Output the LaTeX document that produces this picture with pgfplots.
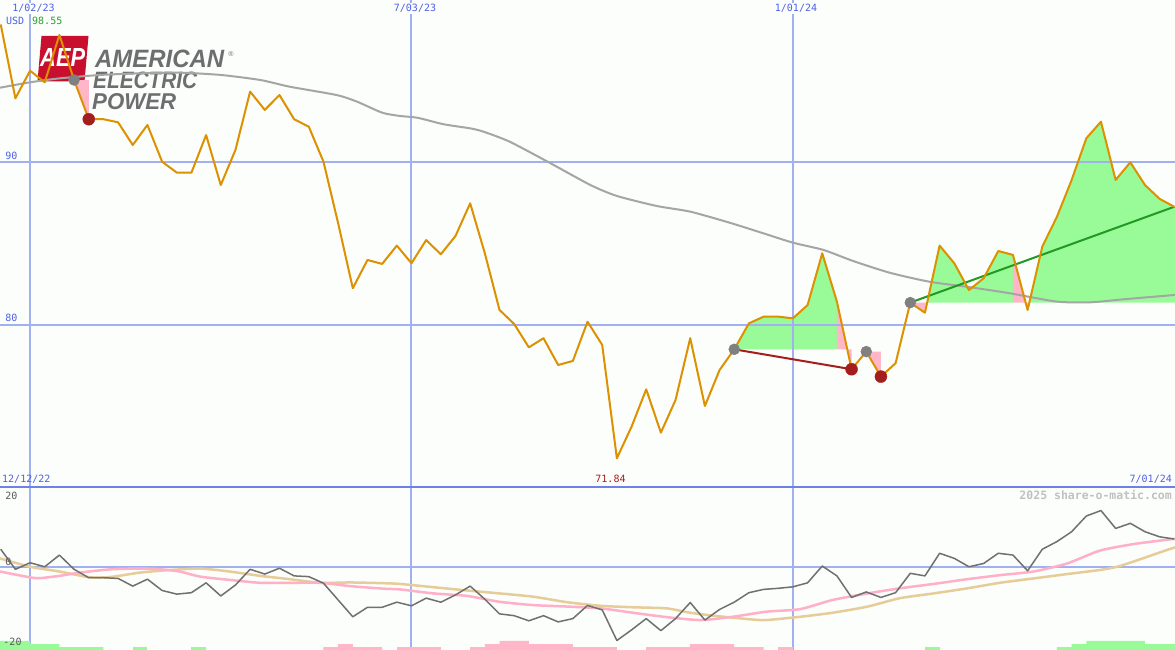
\documentclass[border=0pt]{standalone}
\usepackage{pgfplots}
\pgfplotsset{compat=1.18}
\usepackage{pgfplotstable}
\usepackage{graphicx}
\usepackage{fontspec}
\newfontfamily\monofont{DejaVu Sans Mono}
\newfontfamily\logofont{Liberation Sans}

\definecolor{bgc}{RGB}{251,254,250}
\definecolor{gridblue}{RGB}{160,176,240}
\definecolor{sepblue}{RGB}{112,128,232}
\definecolor{labblue}{RGB}{80,96,232}
\definecolor{priceor}{RGB}{221,144,0}
\definecolor{magray}{RGB}{165,165,165}
\definecolor{fillgreen}{RGB}{152,251,152}
\definecolor{fillpink}{RGB}{255,182,200}
\definecolor{exitred}{RGB}{165,30,30}
\definecolor{trendgreen}{RGB}{34,153,34}
\definecolor{markgray}{RGB}{128,128,128}
\definecolor{oscgray}{RGB}{112,112,112}
\definecolor{oscpink}{RGB}{255,176,200}
\definecolor{osctan}{RGB}{230,204,153}
\definecolor{aepred}{RGB}{200,16,46}
\definecolor{aepgray}{RGB}{110,110,112}
\definecolor{labgreen}{RGB}{40,160,40}
\definecolor{labred}{RGB}{170,30,30}
\definecolor{labgray}{RGB}{90,90,90}
\definecolor{wmgray}{RGB}{192,192,192}

% weekly values: week index (0 = 1/02/23), price (USD), oscillator
\pgfplotstableread{
w p o
-2 98.40 5.0
-1 93.88 -0.5
0 95.57 1.3
1 94.86 0.2
2 97.76 3.4
3 95.00 -0.5
4 92.60 -2.8
5 92.60 -2.8
6 92.41 -3.0
7 91.02 -5.1
8 92.25 -3.2
9 90.00 -6.3
10 89.33 -7.3
11 89.33 -6.9
12 91.63 -4.2
13 88.57 -7.8
14 90.72 -4.8
15 94.29 -0.5
16 93.17 -1.8
17 94.08 -0.2
18 92.60 -2.3
19 92.14 -2.5
20 90.00 -4.3
21 86.23 -8.9
22 82.25 -13.5
23 83.98 -10.9
24 83.74 -10.9
25 84.86 -9.5
26 83.78 -10.5
27 85.20 -8.4
28 84.33 -9.5
29 85.45 -7.5
30 87.45 -5.1
31 84.39 -8.7
32 80.92 -12.7
33 80.06 -13.2
34 78.63 -14.6
35 79.19 -13.2
36 77.55 -14.9
37 77.80 -14.0
38 80.20 -10.4
39 78.78 -11.6
40 71.84 -20.0
41 73.77 -17.1
42 76.06 -14.0
43 73.41 -17.3
44 75.41 -14.0
45 79.19 -9.6
46 75.04 -14.4
47 77.24 -11.5
48 78.51 -9.5
49 80.10 -6.9
50 80.51 -6.0
51 80.51 -5.7
52 80.41 -5.3
53 81.22 -4.2
54 84.39 0.4
55 81.43 -2.3
56 77.29 -8.2
57 78.37 -6.7
58 76.84 -8.2
59 77.66 -6.9
60 81.37 -1.6
61 80.75 -2.3
62 84.86 3.9
63 83.78 2.5
64 82.14 0.2
65 82.86 1.1
66 84.53 3.9
67 84.29 3.4
68 80.92 -0.9
69 84.80 5.0
70 86.63 7.1
71 88.88 9.8
72 91.43 14.1
73 92.45 15.6
74 88.88 10.7
75 89.96 12.1
76 88.57 9.8
77 87.72 8.4
78 87.24 7.8
}\weekly

\pgfplotsset{panel/.style={
  scale only axis, width=1175pt,
  xmin=-2.05, xmax=78.05,
  axis line style={draw=none}, tick style={draw=none},
  xtick=\empty, ytick=\empty,
  clip=true,
}}

\begin{document}
\begin{tikzpicture}
\fill[bgc] (0,0) rectangle (1175pt,650pt);

% logo
\fill[aepred] (41.5pt,614pt) -- (88.5pt,614pt) -- (84.5pt,568.5pt) -- (37.5pt,568.5pt) -- cycle;
\node[anchor=south west, inner sep=0pt, text=white] at (40pt,583pt) {\resizebox{45pt}{18pt}{\logofont\bfseries\itshape AEP}};
\node[anchor=south west, inner sep=0pt, text=aepgray] at (95pt,582pt) {\resizebox{129pt}{17.5pt}{\logofont\bfseries\itshape AMERICAN}};
\node[anchor=south west, inner sep=0pt, text=aepgray] at (93pt,561pt) {\resizebox{104pt}{16.5pt}{\logofont\bfseries\itshape ELECTRIC}};
\node[anchor=south west, inner sep=0pt, text=aepgray] at (92pt,540pt) {\resizebox{84pt}{16pt}{\logofont\bfseries\itshape POWER}};
\node[anchor=center, inner sep=0pt, text=aepgray] at (231pt,596pt) {\logofont\fontsize{7}{8}\selectfont ®};

% ---------------- upper panel ----------------
\begin{axis}[panel, at={(0,163pt)}, anchor=south west, height=487pt,
  ymin=70.08, ymax=99.9]
% entry markers
\addplot[only marks, mark=*, mark size=5.5pt, mark options={draw=markgray, fill=markgray}]
  coordinates {(3,95.00) (48,78.51) (57,78.37) (60,81.37)};
% trade fills
\addplot[fill=fillpink, draw=none] coordinates {(3,95.00) (4,92.60) (4,95.00)} --cycle;
\addplot[fill=fillgreen, draw=none] coordinates {(48,78.51) (49,80.10) (50,80.51) (51,80.51) (52,80.41) (53,81.22) (54,84.39) (55,81.43) (55,78.51)} --cycle;
\addplot[fill=fillpink, draw=none] coordinates {(55,78.51) (55,81.43) (56,77.29) (56,78.51)} --cycle;
\addplot[fill=fillpink, draw=none] coordinates {(57,78.37) (58,76.84) (58,78.37)} --cycle;
\addplot[fill=fillpink, draw=none] coordinates {(60,81.37) (61,80.75) (61,81.37)} --cycle;
\addplot[fill=fillgreen, draw=none] coordinates {(61,81.37) (61,80.75) (62,84.86) (63,83.78) (64,82.14) (65,82.86) (66,84.53) (67,84.29) (67,81.37)} --cycle;
\addplot[fill=fillpink, draw=none] coordinates {(67,81.37) (67,84.29) (68,80.92) (68,81.37)} --cycle;
\addplot[fill=fillgreen, draw=none] coordinates {(68,81.37) (68,80.92) (69,84.80) (70,86.63) (71,88.88) (72,91.43) (73,92.45) (74,88.88) (75,89.96) (76,88.57) (77,87.72) (78,87.24) (78.05,87.20) (78.05,81.37)} --cycle;
% grid
\draw[gridblue, line width=2pt] (axis cs:0,70.08) -- (axis cs:0,99.9);
\draw[gridblue, line width=2pt] (axis cs:26,70.08) -- (axis cs:26,99.9);
\draw[gridblue, line width=2pt] (axis cs:52,70.08) -- (axis cs:52,99.9);
\draw[gridblue, line width=2pt] (axis cs:-2.05,90) -- (axis cs:78.05,90);
\draw[gridblue, line width=2pt] (axis cs:-2.05,80) -- (axis cs:78.05,80);
% moving average
\addplot[magray, line width=2pt, smooth, tension=0.4] coordinates {
(-2.05,94.53) (0,94.86) (2,95.10) (4.8,95.31) (7.5,95.41) (10.2,95.45) (13,95.31) (15.7,95.00) (17.7,94.59)
(20.9,94.08) (22.3,93.67) (24,93.00) (25.2,92.80) (26.4,92.69) (28.2,92.29) (30,92.04) (30.9,91.84)
(32.7,91.22) (35.4,89.94) (38.2,88.57) (40,87.90) (42.7,87.29) (45,86.94) (47.7,86.26) (50,85.61)
(52,85.04) (54.1,84.59) (56.1,83.92) (58.6,83.20) (61.3,82.65) (64.1,82.31) (66.8,81.94) (70,81.43)
(72.3,81.39) (74.5,81.57) (78.05,81.84)};
% trade lines
\addplot[exitred, line width=2pt] coordinates {(48,78.51) (56,77.29)};
\addplot[trendgreen, line width=2pt] coordinates {(60,81.37) (78,87.24)};
% exit markers
\addplot[only marks, mark=*, mark size=6pt, mark options={draw=exitred, fill=exitred}]
  coordinates {(4,92.60) (56,77.29) (58,76.84)};
% price
\addplot[priceor, line width=2pt, line join=round] table[x=w, y=p] {\weekly};
\end{axis}

% ---------------- lower panel ----------------
\begin{axis}[panel, at={(0,0)}, anchor=south west, height=163pt,
  ymin=-22.6, ymax=22.05]
\draw[gridblue, line width=2pt] (axis cs:0,-22.6) -- (axis cs:0,22.05);
\draw[gridblue, line width=2pt] (axis cs:26,-22.6) -- (axis cs:26,22.05);
\draw[gridblue, line width=2pt] (axis cs:52,-22.6) -- (axis cs:52,22.05);
\draw[gridblue, line width=2pt] (axis cs:-2.05,0) -- (axis cs:78.05,0);
% bars
\addplot[fill=fillgreen, draw=none] coordinates {(-2.05,-23) (-2.05,-20.1) (0,-20.1) (0,-21.0) (2,-21.0) (2,-21.8) (5,-21.8) (5,-23)} --cycle;
\addplot[fill=fillgreen, draw=none] coordinates {(7,-23) (7,-21.8) (8,-21.8) (8,-23)} --cycle;
\addplot[fill=fillgreen, draw=none] coordinates {(11,-23) (11,-21.8) (12,-21.8) (12,-23)} --cycle;
\addplot[fill=fillpink, draw=none] coordinates {(20,-23) (20,-21.8) (21,-21.8) (21,-21.0) (22,-21.0) (22,-21.8) (24,-21.8) (24,-23)} --cycle;
\addplot[fill=fillpink, draw=none] coordinates {(25,-23) (25,-21.8) (28,-21.8) (28,-23)} --cycle;
\addplot[fill=fillpink, draw=none] coordinates {(30,-23) (30,-21.8) (31,-21.8) (31,-21.0) (32,-21.0) (32,-20.1) (34,-20.1) (34,-21.0) (37,-21.0) (37,-21.8) (40,-21.8) (40,-23)} --cycle;
\addplot[fill=fillpink, draw=none] coordinates {(42,-23) (42,-21.8) (45,-21.8) (45,-21.0) (48,-21.0) (48,-21.8) (50,-21.8) (50,-23)} --cycle;
\addplot[fill=fillpink, draw=none] coordinates {(51,-23) (51,-21.8) (52,-21.8) (52,-23)} --cycle;
\addplot[fill=fillgreen, draw=none] coordinates {(61,-23) (61,-21.8) (62,-21.8) (62,-23)} --cycle;
\addplot[fill=fillgreen, draw=none] coordinates {(70,-23) (70,-21.8) (71,-21.8) (71,-21.0) (72,-21.0) (72,-20.1) (76,-20.1) (76,-21.0) (78.05,-21.0) (78.05,-23)} --cycle;
% slow lines
\addplot[osctan, line width=2.5pt, smooth, tension=0.4] coordinates {
(-2.05,2.5) (0,0.2) (2.0,-1.1) (4.1,-2.7) (5.5,-2.6) (7.5,-1.4) (9.5,-0.7) (11.6,-0.3) (13.6,-1.1)
(15.7,-2.3) (17.7,-3.2) (19.8,-4.2) (21.8,-4.1) (24.1,-4.3) (25.2,-4.5) (27.5,-5.4) (29.8,-6.3)
(32.0,-7.1) (34.3,-8.0) (36.6,-9.5) (38.9,-10.5) (41.1,-10.9) (43.4,-11.2) (45.0,-12.4) (46.8,-13.3)
(49.1,-14.2) (50.2,-14.4) (52.5,-13.5) (54.7,-12.4) (57.1,-10.7) (59.3,-8.4) (61.6,-7.1) (63.9,-5.7)
(66.1,-4.2) (68.4,-3.0) (70.7,-1.8) (72.9,-0.7) (74.1,0.2) (75.2,1.6) (77.5,4.8) (78.05,5.5)};
\addplot[oscpink, line width=2.5pt, smooth, tension=0.4] coordinates {
(-2.05,-1.1) (0,-2.7) (0.7,-2.9) (2.0,-2.3) (3.4,-1.4) (5.5,-0.5) (7.5,-0.3) (8.9,-0.5) (10.2,-1.1)
(11.6,-2.5) (13.6,-3.4) (15.7,-4.2) (17.7,-4.2) (19.8,-4.2) (21.8,-5.1) (24.1,-5.8) (25.2,-6.0)
(27.5,-7.1) (29.8,-7.8) (32.0,-9.4) (34.3,-10.3) (36.6,-10.7) (38.9,-11.2) (41.1,-12.4) (43.4,-13.6)
(45.7,-14.4) (47.9,-13.5) (50.2,-12.1) (52.5,-11.4) (54.7,-8.9) (57.1,-7.1) (59.3,-5.7) (61.6,-4.5)
(63.9,-3.2) (66.1,-2.1) (68.4,-1.1) (70.7,1.1) (72.9,4.6) (75.2,6.4) (77.7,7.7) (78.05,7.8)};
% oscillator
\addplot[oscgray, line width=1.5pt, line join=round] table[x=w, y=o] {\weekly};
\end{axis}

% separator
\draw[sepblue, line width=2pt] (0,163pt) -- (1175pt,163pt);

% labels
\begin{scope}[every node/.style={inner sep=0pt, font=\monofont\fontsize{10}{12}\selectfont}]
\node[anchor=base, text=labblue, fill=bgc, inner sep=1.5pt] at (33.5pt,638pt) {1/02/23};
\node[anchor=base, text=labblue, fill=bgc, inner sep=1.5pt] at (415pt,638pt) {7/03/23};
\node[anchor=base, text=labblue, fill=bgc, inner sep=1.5pt] at (796pt,638pt) {1/01/24};
\node[anchor=base west, text=labblue] at (6pt,625pt) {USD};
\node[anchor=base west, text=labgreen] at (32pt,625pt) {98.55};
\node[anchor=base, text=labblue] at (11.5pt,490.5pt) {90};
\node[anchor=base, text=labblue] at (11.5pt,328pt) {80};
\node[anchor=base west, text=labblue] at (2pt,167pt) {12/12/22};
\node[anchor=base, text=labred] at (610.5pt,167pt) {71.84};
\node[anchor=base east, text=labblue] at (1172pt,167pt) {7/01/24};
\node[anchor=base east, text=wmgray, font=\monofont\bfseries\fontsize{11.5}{13}\selectfont] at (1172pt,150pt) {2025 share-o-matic.com};
\node[anchor=base, text=labgray] at (11.5pt,150pt) {20};
\node[anchor=base, text=labgray] at (8.5pt,84pt) {0};
\node[anchor=base, text=labgray] at (12.5pt,4pt) {-20};
\end{scope}

\pgfresetboundingbox
\path[use as bounding box] (0,0) rectangle (1175pt,650pt);
\end{tikzpicture}
\end{document}
